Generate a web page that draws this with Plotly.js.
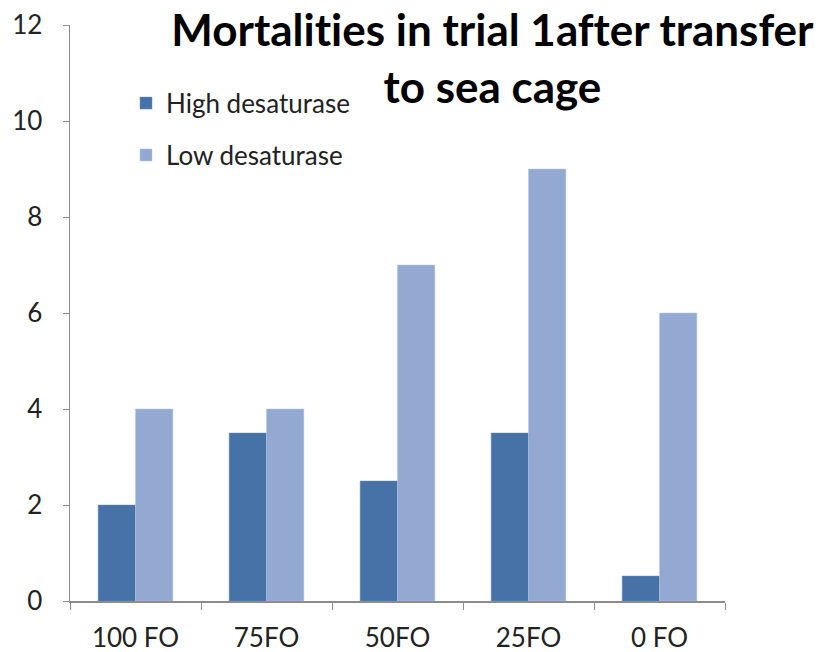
<!DOCTYPE html>
<html>
<head>
<meta charset="utf-8">
<script src="https://cdn.plot.ly/plotly-3.0.1.min.js"></script>
<style>html,body{margin:0;padding:0;background:#fff;}#chart{width:829px;height:652px;}
text{font-variant-ligatures:none;font-feature-settings:"liga" 0;}</style>
</head>
<body>
<div id="chart"></div>
<script>
var categories = ["100 FO", "75FO", "50FO", "25FO", "0 FO"];
var highDesaturase = [2, 3.5, 2.5, 3.5, 0.52];
var lowDesaturase = [4, 4, 7, 9, 6];
var seriesNames = ["High desaturase", "Low desaturase"];
var titleText = "Mortalities in trial 1after transfer<br>to sea cage";

var traces = [
  {type: "bar", name: seriesNames[0], x: categories, y: highDesaturase,
   marker: {color: "#4672A8", line: {color: "#6E8FBF", width: 0.5}}, legendgroup: "a"},
  {type: "bar", name: seriesNames[1], x: categories, y: lowDesaturase,
   marker: {color: "#94A9D1", line: {color: "#B4C4E2", width: 0.5}}, legendgroup: "b"}
];

var layout = {
  width: 829, height: 652,
  margin: {l: 70, r: 104, t: 25, b: 51},
  paper_bgcolor: "#fff", plot_bgcolor: "#fff",
  font: {family: "Lato, 'Open Sans', sans-serif", color: "#222"},
  title: {text: titleText, font: {family: "Lato, sans-serif", size: 44, color: "#000", weight: "bold"},
          x: 0.594, xanchor: "center", y: 0.93, yanchor: "top", yref: "container"},
  barmode: "group", bargap: 0.43, bargroupgap: 0,
  showlegend: true,
  legend: {x: 0.0855, y: 0.905, xanchor: "left", yanchor: "top", xref: "paper", yref: "paper",
           font: {size: 26, color: "#222"}, tracegroupgap: 15, traceorder: "grouped",
           bgcolor: "rgba(0,0,0,0)", itemwidth: 30},
  xaxis: {type: "category", showgrid: false, showline: true, linecolor: "#8c8c8c", linewidth: 1.5,
          ticks: "outside", tickson: "boundaries", ticklen: 7, tickcolor: "#8c8c8c",
          tickfont: {size: 26, color: "#222"}, ticklabelstandoff: 13},
  yaxis: {range: [0, 12], dtick: 2, showgrid: false, zeroline: false, showline: true,
          linecolor: "#8c8c8c", linewidth: 1.5, ticks: "outside", ticklen: 6, tickcolor: "#8c8c8c",
          tickfont: {size: 26, color: "#222"}, ticklabelstandoff: 15}
};

Plotly.newPlot("chart", traces, layout, {displayModeBar: false, staticPlot: true});
</script>
</body>
</html>
